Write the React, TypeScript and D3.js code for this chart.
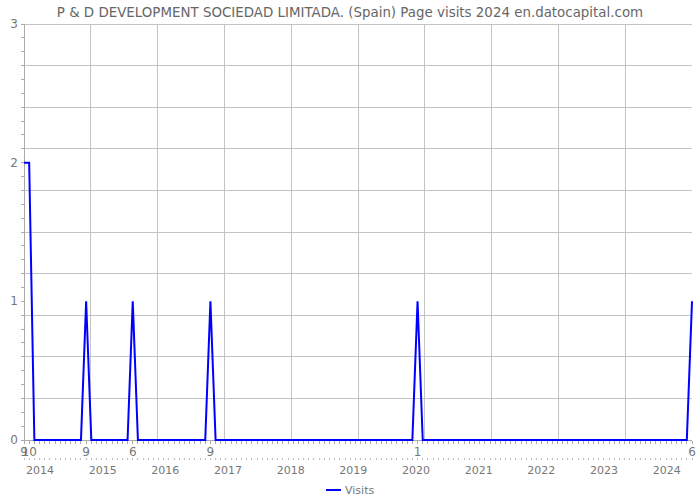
import React from "react";
import * as d3 from "d3";

const title = "P & D DEVELOPMENT SOCIEDAD LIMITADA. (Spain) Page visits 2024 en.datocapital.com";
const seriesName = "Visits";

// Monthly visits, Sep 2013 .. Jun 2024
const startMonth = 9;
const visits: number[] = [
  // 2013 Sep-Dec
  2, 2, 0, 0,
  // 2014
  0, 0, 0, 0, 0, 0, 0, 0, 1, 0, 0, 0,
  // 2015
  0, 0, 0, 0, 0, 1, 0, 0, 0, 0, 0, 0,
  // 2016
  0, 0, 0, 0, 0, 0, 0, 0, 1, 0, 0, 0,
  // 2017
  0, 0, 0, 0, 0, 0, 0, 0, 0, 0, 0, 0,
  // 2018
  0, 0, 0, 0, 0, 0, 0, 0, 0, 0, 0, 0,
  // 2019
  0, 0, 0, 0, 0, 0, 0, 0, 0, 0, 0, 0,
  // 2020
  1, 0, 0, 0, 0, 0, 0, 0, 0, 0, 0, 0,
  // 2021
  0, 0, 0, 0, 0, 0, 0, 0, 0, 0, 0, 0,
  // 2022
  0, 0, 0, 0, 0, 0, 0, 0, 0, 0, 0, 0,
  // 2023
  0, 0, 0, 0, 0, 0, 0, 0, 0, 0, 0, 0,
  // 2024 Jan-Jun
  0, 0, 0, 0, 0, 1,
];
const yearLabels = ["2014", "2015", "2016", "2017", "2018", "2019", "2020", "2021", "2022", "2023", "2024"];
const yTickLabels = [0, 1, 2, 3];

const W = 700, H = 500;
const M = { left: 24, right: 8, top: 24, bottom: 60 };
const FONT = "DejaVu Sans";
const GRID = "#c4c4c4";
const TXT = "#777";

export default function App() {
  const n = visits.length;
  const x = d3.scaleLinear().domain([0, n - 1]).range([M.left, W - M.right]);
  const y = d3.scaleLinear().domain([0, 3]).range([H - M.bottom, M.top]);
  // year labels scale (fractional years)
  const xYear = d3.scaleLinear().domain([2013.745, 2024.404]).range([M.left, W - M.right]);

  const line = d3.line<number>().x((_, i) => x(i)).y((d) => y(d)).curve(d3.curveLinear);

  const hGrid = d3.range(0, 11).map((k) => (3 * k) / 10);
  const vGrid = d3.range(1, 10).map((k) => ((n - 1) * k) / 10);
  const yMinor = d3.range(0, 31).map((k) => k / 10);
  const months = d3.range(0, n);
  const monthOf = (i: number) => ((startMonth - 1 + i) % 12) + 1;
  const labelled = months.filter((i) => visits[i] > 0);
  const y0 = y(0);

  return (
    <svg width={W} height={H} style={{ position: "absolute", left: 0, top: 0 }} fontFamily={FONT}>
      <rect width={W} height={H} fill="#fff" />
      <text x={W / 2} y={17} textAnchor="middle" fontSize={13.4} fill="#666">
        {title}
      </text>
      {/* horizontal grid */}
      {hGrid.map((v, k) => (
        <line key={"h" + k} x1={M.left} x2={W - M.right} y1={y(v)} y2={y(v)} stroke={GRID} strokeWidth={1} shapeRendering="crispEdges" />
      ))}
      {/* vertical grid */}
      {vGrid.map((v, k) => (
        <line key={"v" + k} x1={x(v)} x2={x(v)} y1={M.top} y2={y0} stroke={GRID} strokeWidth={1} shapeRendering="crispEdges" />
      ))}
      {/* left axis */}
      <line x1={M.left} x2={M.left} y1={M.top} y2={y0} stroke="#aaa" shapeRendering="crispEdges" />
      {yMinor.map((v, k) => (
        <line key={"ym" + k} x1={M.left - 3} x2={M.left} y1={y(v)} y2={y(v)} stroke="#aaa" shapeRendering="crispEdges" />
      ))}
      {yTickLabels.map((v) => (
        <text key={"yl" + v} x={M.left - 6} y={y(v) + 4} textAnchor="end" fontSize={12} fill={TXT}>
          {v}
        </text>
      ))}
      {/* bottom axis */}
      <line x1={M.left} x2={W - M.right} y1={y0 + 0.5} y2={y0 + 0.5} stroke="#aaa" shapeRendering="crispEdges" />
      {months.map((i) => (
        <line key={"mt" + i} x1={x(i)} x2={x(i)} y1={y0 + 1} y2={y0 + 4} stroke="#aaa" shapeRendering="crispEdges" />
      ))}
      {months.map((i) => (
        <line key={"mt2" + i} x1={x(i)} x2={x(i)} y1={y0 + 18} y2={y0 + 20} stroke="#bbb" shapeRendering="crispEdges" />
      ))}
      {labelled.map((i) => (
        <text key={"ml" + i} x={x(i)} y={y0 + 16} textAnchor="middle" fontSize={12} fill={TXT}>
          {monthOf(i)}
        </text>
      ))}
      {yearLabels.map((yl) => (
        <text key={"yr" + yl} x={xYear(+yl)} y={y0 + 34} textAnchor="middle" fontSize={11} fill={TXT}>
          {yl}
        </text>
      ))}
      {/* series */}
      <path d={line(visits) || ""} fill="none" stroke="#0000ff" strokeWidth={2} strokeLinejoin="miter" />
      {/* legend */}
      <line x1={326} x2={341} y1={490} y2={490} stroke="#0000ff" strokeWidth={2} />
      <text x={345} y={494} fontSize={11} fill={TXT}>
        {seriesName}
      </text>
    </svg>
  );
}
